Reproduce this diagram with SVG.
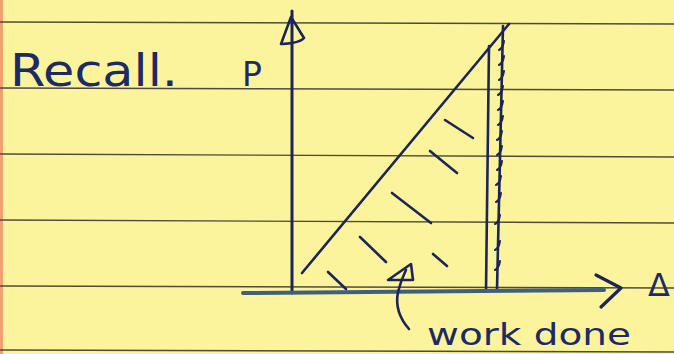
<svg xmlns="http://www.w3.org/2000/svg" width="674" height="354" viewBox="0 0 674 354">
  <style>
    .rule { stroke: #4d4c3c; stroke-width: 1.4; fill: none; }
    .ink { stroke: #1b2558; stroke-width: 2.6; fill: none; stroke-linecap: round; stroke-linejoin: round; }
    .axis { stroke: #3f5f80; stroke-width: 4; fill: none; stroke-linecap: round; }
    .hand { font-family: "DejaVu Sans", "Liberation Sans", sans-serif; fill: #1d2a66; }
  </style>
  <rect x="0" y="0" width="674" height="354" fill="#fcf49c"/>
  <rect x="0" y="0" width="3" height="354" fill="#f2a070"/>
  <g id="paper-lines">
    <line class="rule" x1="0" y1="22" x2="674" y2="24"/>
    <line class="rule" x1="0" y1="88" x2="674" y2="90"/>
    <line class="rule" x1="0" y1="154" x2="674" y2="157"/>
    <line class="rule" x1="0" y1="220" x2="674" y2="223"/>
    <line class="rule" x1="0" y1="286" x2="674" y2="288"/>
    <line class="rule" x1="0" y1="350" x2="674" y2="352"/>
  </g>
  <g id="title">
    <text class="hand" x="10" y="86" font-size="44" textLength="168" lengthAdjust="spacingAndGlyphs">Recall.</text>
  </g>
  <g id="p-label">
    <text class="hand" x="242" y="86" font-size="33">P</text>
  </g>
  <g id="dv-label">
    <text class="hand" x="648" y="296" font-size="32">Δ</text>
  </g>
  <g id="work-done-label">
    <text class="hand" x="427" y="345" font-size="30" textLength="204" lengthAdjust="spacingAndGlyphs">work done</text>
  </g>
  <g id="triangle">
    <line class="ink" x1="302" y1="273" x2="509" y2="24"/>
    <line class="ink" x1="489" y1="46" x2="486" y2="291"/>
    <line class="ink" x1="503" y1="26" x2="497" y2="290"/>
    <g id="right-hatch" class="ink" style="stroke-width:2">
      <path d="M499 50 q4 -2 5 -9"/>
      <path d="M499 65 q4 -2 5 -9"/>
      <path d="M499 80 q4 -2 5 -9"/>
      <path d="M498 95 q4 -2 5 -9"/>
      <path d="M498 110 q4 -2 5 -9"/>
      <path d="M498 125 q4 -2 5 -9"/>
      <path d="M497 140 q4 -2 5 -9"/>
      <path d="M497 155 q4 -2 5 -9"/>
      <path d="M497 170 q4 -2 5 -9"/>
      <path d="M496 185 q4 -2 5 -9"/>
      <path d="M496 202 q4 -2 5 -9"/>
      <path d="M495 224 q4 -2 5 -9"/>
      <path d="M495 250 q4 -2 5 -9"/>
      <path d="M495 270 q4 -2 5 -9"/>
    </g>
    <g id="area-hatch" class="ink">
      <line x1="445" y1="120" x2="473" y2="138"/>
      <line x1="430" y1="151" x2="457" y2="173"/>
      <line x1="392" y1="193" x2="431" y2="223"/>
      <line x1="360" y1="237" x2="386" y2="262"/>
      <line x1="433" y1="254" x2="447" y2="266"/>
      <line x1="328" y1="272" x2="346" y2="289"/>
    </g>
  </g>
  <g id="connectors">
    <line class="ink" style="stroke-width:3" x1="292" y1="11" x2="292" y2="293"/>
    <path class="ink" d="M281 44 L291 17 L304 38 Q300 43 282 44"/>
    <line class="axis" x1="243" y1="293" x2="604" y2="290"/>
    <path class="ink" style="stroke-width:3.2" d="M596 275 L621 288 L601 307"/>
    <path class="ink" d="M409 329 Q394 312 398 292 Q401 280 406 270"/>
    <path class="ink" d="M388 280 L411 264 L413 280 Z"/>
  </g>
</svg>
